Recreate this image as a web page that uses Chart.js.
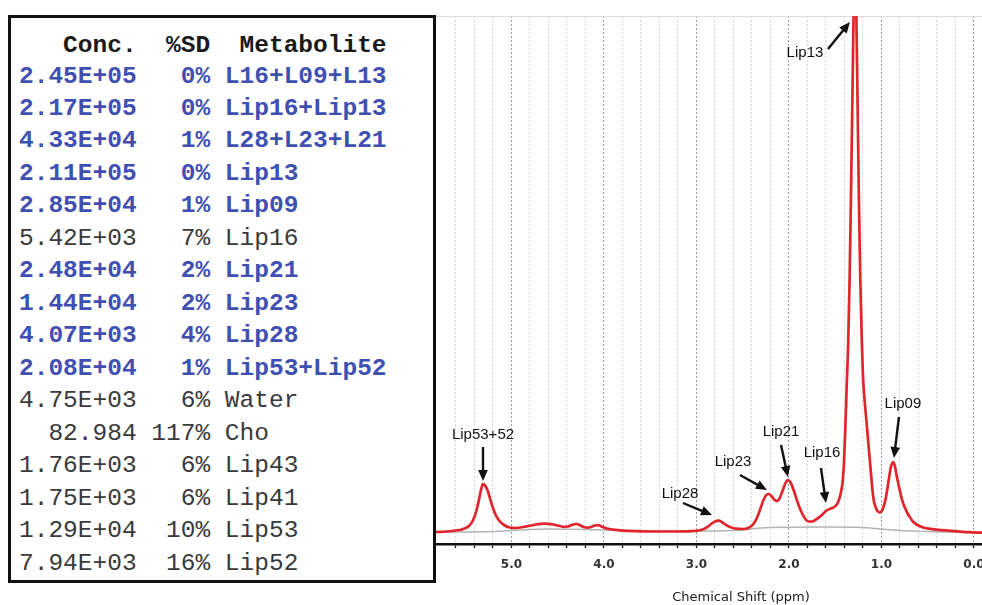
<!DOCTYPE html>
<html>
<head>
<meta charset="utf-8">
<script src="https://cdn.jsdelivr.net/npm/chart.js@4.4.0/dist/chart.umd.min.js"></script>
<style>
html,body{margin:0;padding:0;background:#fff;}
body{width:982px;height:605px;position:relative;overflow:hidden;}
#box{position:absolute;left:8px;top:15px;width:428px;height:568px;border:3px solid #111;box-sizing:border-box;background:#fff;z-index:2;}
.row{position:absolute;left:8px;height:32px;line-height:32px;font-family:"Liberation Mono","Courier New",monospace;font-size:24.5px;white-space:pre;}
.hdr{font-weight:bold;color:#1a1a1a;}
.hi{font-weight:bold;color:#3f50b2;}
.lo{color:#3a3a3a;}
#wrap{position:absolute;left:436px;top:0;width:546px;height:605px;}
</style>
</head>
<body>
<div id="box"></div>
<div id="wrap"><canvas id="c" width="546" height="605"></canvas></div>
<script>
// ---------- Table data ----------
const tableHeader = ['Conc.', '%SD', 'Metabolite'];
const concValues = ['2.45E+05','2.17E+05','4.33E+04','2.11E+05','2.85E+04','5.42E+03','2.48E+04','1.44E+04','4.07E+03','2.08E+04','4.75E+03','82.984','1.76E+03','1.75E+03','1.29E+04','7.94E+03'];
const sdValues = ['0%','0%','1%','0%','1%','7%','2%','2%','4%','1%','6%','117%','6%','6%','10%','16%'];
const metabolites = ['L16+L09+L13','Lip16+Lip13','L28+L23+L21','Lip13','Lip09','Lip16','Lip21','Lip23','Lip28','Lip53+Lip52','Water','Cho','Lip43','Lip41','Lip53','Lip52'];
const highlighted = [1,1,1,1,1,0,1,1,1,1,0,0,0,0,0,0];

// ---------- Spectrum data (chemical shift ppm, intensity a.u.) ----------
const spectrumPpm = [5.816,5.70,5.60,5.52,5.46,5.42,5.38,5.35,5.33,5.31,5.29,5.26,5.23,5.20,5.17,5.13,5.08,5.02,4.95,4.87,4.79,4.71,4.64,4.57,4.50,4.44,4.39,4.34,4.30,4.26,4.22,4.18,4.14,4.10,4.06,4.02,3.97,3.90,3.80,3.65,3.45,3.25,3.05,2.95,2.89,2.84,2.80,2.76,2.72,2.68,2.63,2.57,2.50,2.44,2.40,2.37,2.34,2.31,2.28,2.25,2.22,2.19,2.16,2.13,2.10,2.07,2.04,2.01,1.98,1.95,1.92,1.89,1.86,1.83,1.79,1.75,1.70,1.65,1.60,1.55,1.51,1.48,1.46,1.44,1.42,1.405,1.39,1.375,1.36,1.345,1.33,1.315,1.30,1.2865,1.273,1.258,1.243,1.228,1.213,1.20,1.185,1.17,1.155,1.14,1.125,1.11,1.095,1.08,1.06,1.04,1.02,0.99,0.96,0.94,0.92,0.90,0.875,0.855,0.835,0.81,0.79,0.77,0.74,0.72,0.69,0.66,0.62,0.55,0.45,0.35,0.20,0.05,-0.087];
const spectrumFit = [12,12.5,13.5,15,18,23,33,45,54,60,59,54,45,36,29,23,19,16.5,16,17,18.5,19.8,20.3,19.8,18.5,17.2,17.5,19.3,20,18.8,17,16.3,17,18.5,18.8,17.2,15.5,14.3,13.3,12.8,12.5,12.5,12.8,14,16.5,20,22.5,23.3,21.5,19,16.8,15.3,15,16,18.5,22,27.5,35,43,48.5,50,48,44.5,43,46,53,60.5,64,61,54,45.5,37.5,31,26,22.5,22.5,25,28.5,33,35.5,37,40,44,51,62,82,118,160,200,262,345,440,540,620,540,440,340,262,205,168,147,131,115,99,83,67,52,42,36,32.5,31.5,34,43,53,65,76,82,78,68,57,49,42,35,31,26.5,22.5,19.5,16.5,14.8,13.8,12.8,11.8,11.3];
const baselinePpm = [5.816,5.2,5.0,4.6,4.2,3.8,3.2,2.7,2.5,2.3,2.0,1.6,1.3,1.1,0.95,0.8,0.6,0.3,0.0,-0.087];
const baselineVal = [11.8,12.5,13.5,15,14.5,13.5,13,13.3,14,16,16.8,17,16.8,15.8,14.5,13.5,12.8,12,11.3,11];

// ---------- Axis ticks ----------
const majorTicks = [5, 4, 3, 2, 1, 0];
const majorTickLabels = ['5.0', '4.0', '3.0', '2.0', '1.0', '0.0'];
const minorTicks = [5.6,5.4,5.2,4.8,4.6,4.4,4.2,3.8,3.6,3.4,3.2,2.8,2.6,2.4,2.2,1.8,1.6,1.4,1.2,0.8,0.6,0.4,0.2];
const xTitle = 'Chemical Shift (ppm)';

// ---------- Peak annotations (label, label pos, arrow tail, arrow tip) in data units ----------
const peakLabels = ['Lip53+52','Lip28','Lip23','Lip21','Lip16','Lip09','Lip13'];
const labelAt = [[5.308,109],[3.178,50],[2.605,82],[2.086,112],[1.643,91],[0.768,140],[1.827,491]];
const arrowTail = [[5.308,97],[3.146,41],[2.53,69],[2.086,99],[1.654,76],[0.811,127],[1.578,495]];
const arrowTip = [[5.308,63],[2.832,29],[2.238,54],[2.011,67],[1.60,41],[0.865,86],[1.341,522]];

// ---------- Build table ----------
const box = document.getElementById('box');
function addRow(text, cls, top) {
  const d = document.createElement('div');
  d.className = 'row ' + cls;
  d.style.top = top + 'px';
  d.textContent = text;
  box.appendChild(d);
}
addRow(tableHeader[0].padStart(8) + tableHeader[1].padStart(5) + '  ' + tableHeader[2], 'hdr', 11.5);
for (let i = 0; i < concValues.length; i++) {
  const t = concValues[i].padStart(8) + sdValues[i].padStart(5) + ' ' + metabolites[i];
  addRow(t, highlighted[i] ? 'hi' : 'lo', 42.5 + 32.47 * i);
}

// ---------- Chart ----------
const redData = spectrumPpm.map((p, i) => ({x: p, y: spectrumFit[i]}));
const grayData = baselinePpm.map((p, i) => ({x: p, y: baselineVal[i]}));
const allTicks = majorTicks.concat(minorTicks).sort((a, b) => b - a);
const isMajor = v => majorTicks.some(m => Math.abs(m - v) < 1e-6);

const annotatePlugin = {
  id: 'annot',
  afterDatasetsDraw(chart) {
    const {ctx, scales: {x, y}} = chart;
    ctx.save();
    ctx.fillStyle = '#111';
    ctx.strokeStyle = '#111';
    ctx.font = '15px "Liberation Sans", Arial, sans-serif';
    ctx.textAlign = 'center';
    ctx.textBaseline = 'middle';
    for (let i = 0; i < peakLabels.length; i++) {
      const lx = x.getPixelForValue(labelAt[i][0]), ly = y.getPixelForValue(labelAt[i][1]);
      ctx.fillText(peakLabels[i], lx, ly);
      const tx = x.getPixelForValue(arrowTail[i][0]), ty = y.getPixelForValue(arrowTail[i][1]);
      const hx = x.getPixelForValue(arrowTip[i][0]), hy = y.getPixelForValue(arrowTip[i][1]);
      const ang = Math.atan2(hy - ty, hx - tx);
      const headLen = 11, headW = 4.8;
      const bx = hx - headLen * Math.cos(ang), by = hy - headLen * Math.sin(ang);
      ctx.lineWidth = 2.4;
      ctx.beginPath();
      ctx.moveTo(tx, ty);
      ctx.lineTo(bx + 2 * Math.cos(ang), by + 2 * Math.sin(ang));
      ctx.stroke();
      ctx.beginPath();
      ctx.moveTo(hx, hy);
      ctx.lineTo(bx + headW * Math.sin(ang), by - headW * Math.cos(ang));
      ctx.lineTo(bx - headW * Math.sin(ang), by + headW * Math.cos(ang));
      ctx.closePath();
      ctx.fill();
    }
    ctx.restore();
  },
  afterDraw(chart) {
    const {ctx} = chart;
    ctx.save();
    ctx.fillStyle = '#1a1a1a';
    ctx.font = '13px "DejaVu Sans", sans-serif';
    ctx.textAlign = 'center';
    ctx.textBaseline = 'middle';
    ctx.fillText(xTitle, 305, 598);
    ctx.restore();
  }
};

new Chart(document.getElementById('c'), {
  type: 'line',
  data: {
    datasets: [
      {data: redData, borderColor: '#e0262c', borderWidth: 2.7, pointRadius: 0, fill: false, cubicInterpolationMode: 'monotone'},
      {data: grayData, borderColor: '#b4b4b4', borderWidth: 1.5, pointRadius: 0, fill: false, cubicInterpolationMode: 'monotone'}
    ]
  },
  options: {
    responsive: false,
    animation: false,
    devicePixelRatio: 1,
    layout: {padding: {top: 16, left: 0, right: 0, bottom: 0}},
    plugins: {legend: {display: false}, tooltip: {enabled: false}, title: {display: false}},
    scales: {
      x: {
        type: 'linear',
        reverse: true,
        min: -0.087,
        max: 5.816,
        afterBuildTicks: s => { s.ticks = allTicks.map(v => ({value: v})); },
        afterFit: s => { s.height = 61; s.paddingLeft = 0; s.paddingRight = 0; },
        ticks: {
          autoSkip: false, minRotation: 0, maxRotation: 0, padding: 10,
          color: '#333',
          font: {family: '"DejaVu Sans", sans-serif', size: 12, weight: 'bold'},
          callback: v => { const k = majorTicks.findIndex(m => Math.abs(m - v) < 1e-6); return k >= 0 ? majorTickLabels[k] : ''; }
        },
        grid: {
          color: c => (c.tick && isMajor(c.tick.value)) ? '#9c9c9c' : '#d3d9df',
          lineWidth: 1,
          drawTicks: true,
          tickLength: 4,
          tickColor: '#111',
          tickWidth: 1.3,
          tickBorderDash: []
        },
        border: {display: true, color: '#111', width: 2.5, dash: [2, 2]}
      },
      y: {
        display: true,
        min: 0,
        max: 528,
        afterBuildTicks: s => { s.ticks = [{value: 528}]; },
        ticks: {display: false},
        grid: {color: '#dcdcdc', drawTicks: false, lineWidth: 1},
        border: {display: false}
      }
    }
  },
  plugins: [annotatePlugin]
});
</script>
</body>
</html>
